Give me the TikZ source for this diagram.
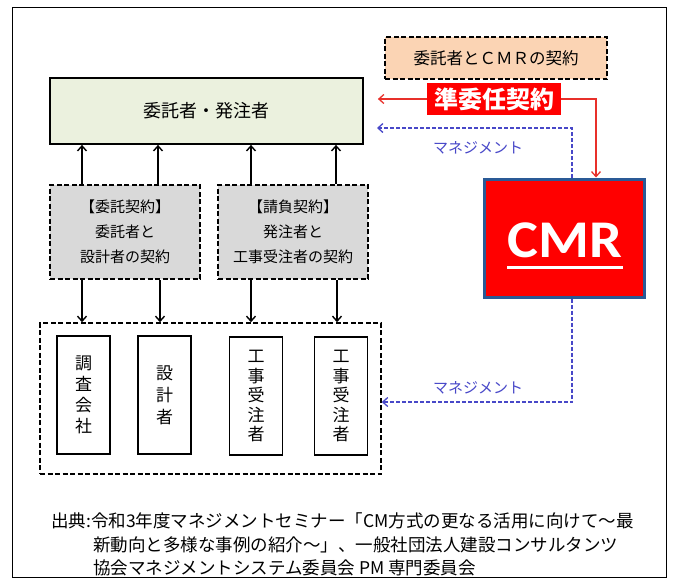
\documentclass[tikz,border=0pt]{standalone}
\usepackage{fontspec}
\usepackage{graphicx}
\setmainfont{Noto Sans CJK JP}
\newfontfamily\cmrfont{Carlito}
\usetikzlibrary{arrows.meta}
\definecolor{ownerfill}{HTML}{EBF1DE}
\definecolor{peach}{HTML}{FBD4B4}
\definecolor{grayfill}{HTML}{D9D9D9}
\definecolor{cmrred}{HTML}{FF0000}
\definecolor{cmrblue}{HTML}{2A5A96}
\definecolor{mgblue}{HTML}{4848C8}
\definecolor{redline}{HTML}{E8302A}
\begin{document}
\begin{tikzpicture}[x=1pt,y=-1pt,
  mainbox/.style={draw, line width=1.8pt, fill=ownerfill, minimum width=313pt, minimum height=66pt, inner sep=0pt, font=\fontsize{18}{21}\selectfont},
  peachbox/.style={draw, line width=1.5pt, dash pattern=on 5pt off 2.5pt, fill=peach, minimum width=222pt, minimum height=42pt, inner sep=0pt, font=\fontsize{16.5}{20}\selectfont},
  redlabel/.style={fill=cmrred, text=white, minimum width=134pt, minimum height=32pt, inner sep=0pt, font=\fontsize{24}{28}\selectfont\bfseries},
  cmrbox/.style={draw=cmrblue, line width=3pt, fill=cmrred, minimum width=160pt, minimum height=118pt, inner sep=0pt},
  cmrtext/.style={text=white, inner sep=0pt, font=\fontsize{53}{60}\selectfont\cmrfont\bfseries},
  graybox/.style={draw, line width=1.6pt, dash pattern=on 5pt off 2.5pt, fill=grayfill, minimum width=150pt, minimum height=94pt, inner sep=0pt, align=center, font=\fontsize{15}{25}\selectfont},
  container/.style={draw, line width=1.6pt, dash pattern=on 5pt off 2.5pt, minimum width=341pt, minimum height=151pt, inner sep=0pt},
  vbox/.style={draw, line width=1.6pt, minimum width=53pt, minimum height=118pt, inner sep=0pt, align=center, font=\fontsize{17}{19.5}\selectfont},
  mgmt/.style={text=mgblue, inner sep=0pt, font=\fontsize{15}{17}\selectfont},
  caption/.style={anchor=west, inner sep=0pt, font=\fontsize{17.5}{20}\selectfont},
  arr/.style={-{Straight Barb[length=5pt,width=9pt,line width=1.4pt]}, line width=1.4pt},
  redarr/.style={-{Straight Barb[length=5pt,width=9pt,line width=1.3pt]}, line width=1.3pt, draw=redline},
  bluearr/.style={-{Straight Barb[length=5pt,width=9pt,line width=1.3pt]}, line width=1.3pt, draw=mgblue, dash pattern=on 4pt off 2pt}
]
\useasboundingbox (0,0) rectangle (675,582);
\draw[line width=1pt] (12.5,7.5) rectangle (666,577);

\node[mainbox] (owner) at (206.5,111) {委託者・発注者};
\node[peachbox] (peachb) at (496,58) {委託者とＣＭＲの契約};
\node[redlabel] (redlbl) at (494,99) {準委任契約};
\node[cmrbox] (cmr) at (564,238) {};
\node[cmrtext, anchor=base] (cmrtxt) at (565,257) {\scalebox{1.1}[1]{CMR}};
\draw[white, line width=3pt] ([yshift=-10pt]cmrtxt.base west) -- ([yshift=-10pt]cmrtxt.base east);

\node[graybox] (gray1) at (125,232) {【委託契約】\\委託者と\\設計者の契約};
\node[graybox] (gray2) at (293,232) {【請負契約】\\発注者と\\工事受注者の契約};

\node[container] (cont) at (210.5,398.5) {};
\node[vbox, font=\fontsize{17}{21}\selectfont] (b1) at (83.5,395) {調\\査\\会\\社};
\node[vbox, font=\fontsize{17}{22}\selectfont] (b2) at (164.5,395) {設\\計\\者};
\node[vbox] (b3) at (256,396) {工\\事\\受\\注\\者};
\node[vbox] (b4) at (341,396) {工\\事\\受\\注\\者};

% arrows up to owner
\draw[arr] ([xshift=-43pt]gray1.north) -- ([xshift=-43pt]gray1.north |- owner.south);
\draw[arr] ([xshift=33pt]gray1.north) -- ([xshift=33pt]gray1.north |- owner.south);
\draw[arr] ([xshift=-42pt]gray2.north) -- ([xshift=-42pt]gray2.north |- owner.south);
\draw[arr] ([xshift=43pt]gray2.north) -- ([xshift=43pt]gray2.north |- owner.south);
% arrows down to container
\draw[arr] ([xshift=-43pt]gray1.south) -- ([xshift=-43pt]gray1.south |- cont.north);
\draw[arr] ([xshift=35pt]gray1.south) -- ([xshift=35pt]gray1.south |- cont.north);
\draw[arr] ([xshift=-42pt]gray2.south) -- ([xshift=-42pt]gray2.south |- cont.north);
\draw[arr] ([xshift=44pt]gray2.south) -- ([xshift=44pt]gray2.south |- cont.north);

% red contract lines
\coordinate (rtip) at ([xshift=14pt]owner.east);
\draw[redarr] (redlbl.west) -- (rtip |- redlbl.west);
\draw[redarr] (redlbl.east) -| ([xshift=32pt]cmr.north);

% management lines
\coordinate (btip) at (377,128);
\draw[bluearr] ([xshift=8pt]cmr.north) |- (btip);
\node[mgmt] (m1) at (478,148) {マネジメント};
\draw[bluearr] ([xshift=8pt]cmr.south) |- ([yshift=-3.5pt]cont.east);
\node[mgmt] (m2) at (478,388) {マネジメント};

% caption
\node[caption] (c1) at (51,521) {出典:令和3年度マネジメントセミナー「CM方式の更なる活用に向けて～最};
\node[caption] (c2) at (93,545) {新動向と多様な事例の紹介～」、一般社団法人建設コンサルタンツ};
\node[caption] (c3) at (93,568) {協会マネジメントシステム委員会 PM 専門委員会};
\end{tikzpicture}
\end{document}
